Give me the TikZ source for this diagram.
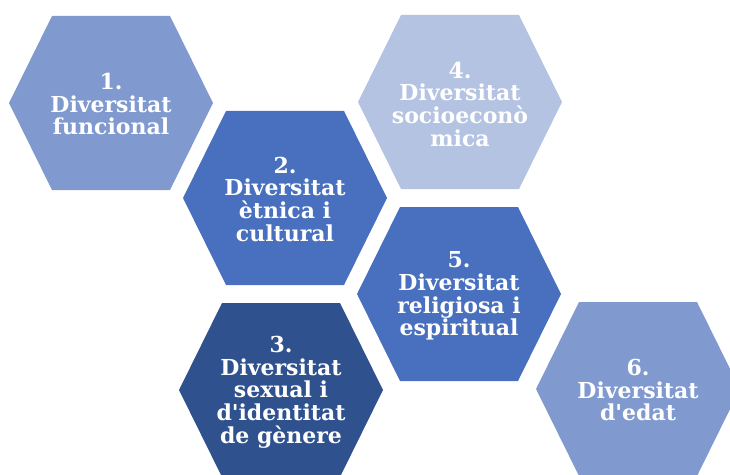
\documentclass[tikz,border=0pt]{standalone}
\usepackage{fontspec}
\newfontfamily\hexfont{DejaVu Serif}
\usepackage{tikz}
\usetikzlibrary{positioning}

\definecolor{hexlight}{RGB}{128,153,207}
\definecolor{hexmid}{RGB}{72,112,190}
\definecolor{hexdark}{RGB}{47,82,143}
\definecolor{hexpale}{RGB}{181,195,226}

\begin{document}
\begin{tikzpicture}[
    x=0.75pt, y=-0.75pt,
    hexa/.style={insert path={++(-102,0) -- ++(43,-87) -- ++(118,0) -- ++(43,87) -- ++(-43,87) -- ++(-118,0) -- cycle}},
    hextext/.style={text=white, align=center, inner sep=0pt, font=\hexfont\bfseries\fontsize{16.5}{17}\selectfont},
]
    \useasboundingbox (0,0) rectangle (730,474);
    \clip (0,0) rectangle (730,474);

    % hexagons
    \fill[hexlight] (111,103) [hexa];
    \fill[hexmid] (285,198) [hexa];
    \fill[hexdark] (281,390) [hexa];
    \fill[hexpale] (460,102) [hexa];
    \fill[hexmid] (459,294) [hexa];
    \fill[hexlight] (638,389) [hexa];

    % labels
    \node[hextext] (funcional) at (111,104) {1.\\Diversitat\\funcional};
    \node[hextext] (etnica) at (285,199) {2.\\Diversitat\\ètnica i\\cultural};
    \node[hextext] (sexual) at (281,392) {3.\\Diversitat\\sexual i\\d'identitat\\de gènere};
    \node[hextext] (socio) at (460,104) {4.\\Diversitat\\socioeconò\\mica};
    \node[hextext] (religiosa) at (459,296) {5.\\Diversitat\\religiosa i\\espiritual};
    \node[hextext] (edat) at (638,390) {6.\\Diversitat\\d'edat};
\end{tikzpicture}
\end{document}
